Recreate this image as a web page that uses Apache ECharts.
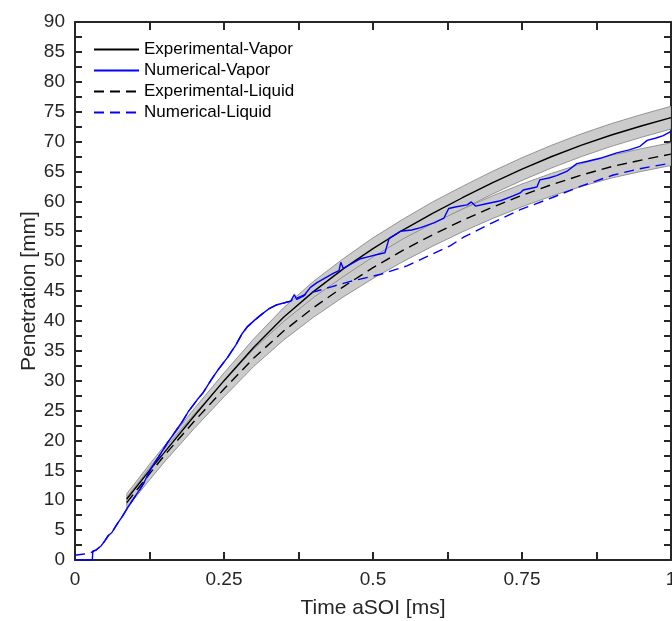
<!DOCTYPE html>
<html>
<head>
<meta charset="utf-8">
<script src="https://cdn.jsdelivr.net/npm/echarts@6/dist/echarts.min.js"></script>
<style>
html,body{margin:0;padding:0;background:#fff;overflow:hidden;}
#chart{width:672px;height:621px;}
</style>
</head>
<body>
<div id="chart"></div>
<script>
// ---- data ----
const expT = [0.087,0.125,0.15,0.2,0.25,0.3,0.35,0.4,0.45,0.5,0.55,0.6,0.65,0.7,0.75,0.8,0.85,0.9,0.95,1.0];
const expVapor      = [10.2,15.0,18.0,24.1,30.0,35.6,40.6,44.9,48.7,52.1,55.2,58.0,60.6,63.1,65.4,67.5,69.4,71.1,72.6,74.0];
const expVaporUpper = [11.1,16.0,19.1,25.3,31.3,37.0,42.2,46.6,50.4,53.9,57.0,59.9,62.5,65.0,67.3,69.4,71.3,73.0,74.5,75.9];
const expVaporLower = [9.3,14.0,16.9,22.9,28.7,34.2,39.0,43.2,47.0,50.3,53.3,56.1,58.7,61.2,63.5,65.6,67.5,69.2,70.7,72.1];
const expLiquid      = [9.6,14.4,17.5,23.2,28.6,33.8,38.3,42.2,45.7,48.9,51.8,54.4,56.8,59.0,61.0,62.8,64.4,65.8,66.9,67.9];
const expLiquidUpper = [10.5,15.4,18.6,24.4,29.9,35.3,39.9,43.9,47.4,50.7,53.7,56.3,58.7,60.9,62.9,64.7,66.3,67.7,68.8,69.8];
const expLiquidLower = [8.7,13.4,16.4,22.0,27.3,32.4,36.8,40.6,44.0,47.1,49.9,52.5,54.9,57.1,59.1,60.9,62.5,63.9,65.0,66.0];

const numVaporT = [0,0.029,0.030,0.036,0.044,0.050,0.056,0.062,0.070,0.080,0.088,0.100,0.110,0.116,0.128,0.140,0.155,0.165,0.179,0.190,0.205,0.215,0.229,0.240,0.256,0.270,0.280,0.289,0.300,0.312,0.325,0.339,0.350,0.362,0.368,0.372,0.384,0.395,0.406,0.420,0.434,0.443,0.446,0.450,0.465,0.479,0.495,0.507,0.520,0.527,0.540,0.546,0.565,0.580,0.602,0.619,0.627,0.640,0.658,0.665,0.672,0.690,0.714,0.735,0.747,0.752,0.775,0.780,0.795,0.808,0.825,0.842,0.860,0.881,0.909,0.930,0.948,0.960,0.975,0.987,1.0];
const numVaporV = [0,0,1.5,1.7,2.4,3.2,4.1,4.6,5.9,7.4,8.7,10.5,12.0,13.0,15.4,17.2,19.6,21.0,23.0,24.8,26.8,28.0,30.2,31.8,33.9,36.0,37.8,39.0,40.0,41.0,42.0,42.7,43.0,43.3,44.4,43.6,44.2,45.6,46.4,47.2,48.0,48.4,49.8,48.8,49.6,50.4,50.8,51.1,51.4,53.8,54.6,55.0,55.2,55.6,56.4,57.2,58.8,59.1,59.4,59.9,59.2,59.6,60.1,60.9,61.4,61.9,62.4,63.6,63.9,64.3,65.0,66.3,66.7,67.2,68.1,68.6,69.2,70.2,70.6,71.0,71.7];

const numLiquidT = [0,0.015,0.028,0.030,0.036,0.044,0.050,0.056,0.062,0.070,0.080,0.088,0.100,0.110,0.116,0.128,0.140,0.155,0.165,0.179,0.190,0.205,0.215,0.229,0.240,0.256,0.270,0.280,0.289,0.300,0.312,0.325,0.339,0.350,0.362,0.368,0.372,0.384,0.395,0.406,0.430,0.462,0.513,0.557,0.600,0.630,0.652,0.700,0.747,0.800,0.848,0.903,0.950,1.0];
const numLiquidV = [0.8,1.0,1.3,1.5,1.7,2.4,3.2,4.1,4.6,5.9,7.4,8.7,10.5,12.0,13.0,15.4,17.2,19.6,21.0,23.0,24.8,26.8,28.0,30.2,31.8,33.9,36.0,37.8,39.0,40.0,41.0,42.0,42.7,43.0,43.3,44.0,43.8,44.3,44.7,45.0,45.7,46.6,47.8,49.2,51.2,52.6,54.0,56.4,58.6,60.6,62.5,64.4,65.5,66.4];

const xTicks = {min:0, max:1, interval:0.25};
const yTicks = {min:0, max:90, interval:5};
const seriesNames = ['Experimental-Vapor','Numerical-Vapor','Experimental-Liquid','Numerical-Liquid'];

// ---- build ----
const pairs = (xs, ys) => xs.map((x,i)=>[x, ys[i]]);
const axisColor = '#262626';
const font = 'Liberation Sans, Arial, Helvetica, sans-serif';

function bandSeries(upper, lower){
  return {
    type:'custom', z:1, silent:true, clip:true,
    data:[[0.5,50]],
    encode:{x:0,y:1},
    renderItem:function(params, api){
      const pts = [];
      for(let i=0;i<expT.length;i++) pts.push(api.coord([expT[i], upper[i]]));
      for(let i=expT.length-1;i>=0;i--) pts.push(api.coord([expT[i], lower[i]]));
      return {type:'polygon', shape:{points:pts}, style:{fill:'#cbcbcb', stroke:'#8a8a8a', lineWidth:0.9}};
    }
  };
}

function mkX(pos, showLabel){
  return {
    type:'value', position:pos, min:xTicks.min, max:xTicks.max, interval:xTicks.interval,
    name: showLabel ? 'Time aSOI [ms]' : '', nameLocation:'middle', nameGap:38,
    nameTextStyle:{fontSize:21, color:axisColor, fontFamily:font},
    axisLine:{show:true, onZero:false, lineStyle:{color:axisColor, width:2}},
    axisTick:{show:true, inside:true, length:8, lineStyle:{color:axisColor, width:2}},
    minorTick:{show:true, splitNumber:2, length:8, lineStyle:{color:axisColor, width:2}},
    axisLabel:{show:showLabel, fontSize:19, color:axisColor, margin:10, fontFamily:font},
    splitLine:{show:false}, minorSplitLine:{show:false}
  };
}
function mkY(pos, showLabel){
  return {
    type:'value', position:pos, min:yTicks.min, max:yTicks.max, interval:yTicks.interval,
    name: showLabel ? 'Penetration [mm]' : '', nameLocation:'middle', nameGap:35, nameMoveOverlap:false,
    nameTextStyle:{fontSize:21, color:axisColor, fontFamily:font},
    axisLine:{show:true, onZero:false, lineStyle:{color:axisColor, width:2}},
    axisTick:{show:true, inside:true, length:7, lineStyle:{color:axisColor, width:2}},
    minorTick:{show:true, splitNumber:2, length:7, lineStyle:{color:axisColor, width:2}},
    axisLabel:{show:showLabel, fontSize:19, color:axisColor, margin:10, fontFamily:font},
    splitLine:{show:false}, minorSplitLine:{show:false}
  };
}

const chart = echarts.init(document.getElementById('chart'), null, {renderer:'canvas', width:672, height:621});
chart.setOption({
  backgroundColor:'#ffffff',
  animation:false,
  grid:{left:75, right:1, top:22, bottom:61, containLabel:false, outerBoundsMode:'none'},
  xAxis:[mkX('bottom', true), mkX('top', false)],
  yAxis:[mkY('left', true), mkY('right', false)],
  legend:{
    data:seriesNames, orient:'vertical', left:93, top:41, padding:0,
    itemWidth:45, itemHeight:14, itemGap:4,
    itemStyle:{opacity:0, borderWidth:0},
    textStyle:{fontSize:17, color:'#000', fontFamily:font}
  },
  series:[
    bandSeries(expVaporUpper, expVaporLower),
    bandSeries(expLiquidUpper, expLiquidLower),
    {name:seriesNames[0], type:'line', z:3, symbol:'none', data:pairs(expT, expVapor),
     lineStyle:{color:'#000', width:1.4}, itemStyle:{color:'#000'}},
    {name:seriesNames[2], type:'line', z:3, symbol:'none', data:pairs(expT, expLiquid),
     lineStyle:{color:'#000', width:1.4, type:[10,6]}, itemStyle:{color:'#000'}},
    {name:seriesNames[3], type:'line', z:4, symbol:'none', data:pairs(numLiquidT, numLiquidV),
     lineStyle:{color:'#0000ff', width:1.4, type:[10,6]}, itemStyle:{color:'#0000ff'}},
    {name:seriesNames[1], type:'line', z:4, symbol:'none', data:pairs(numVaporT, numVaporV),
     lineStyle:{color:'#0000ff', width:1.4}, itemStyle:{color:'#0000ff'}}
  ]
});
</script>
</body>
</html>
